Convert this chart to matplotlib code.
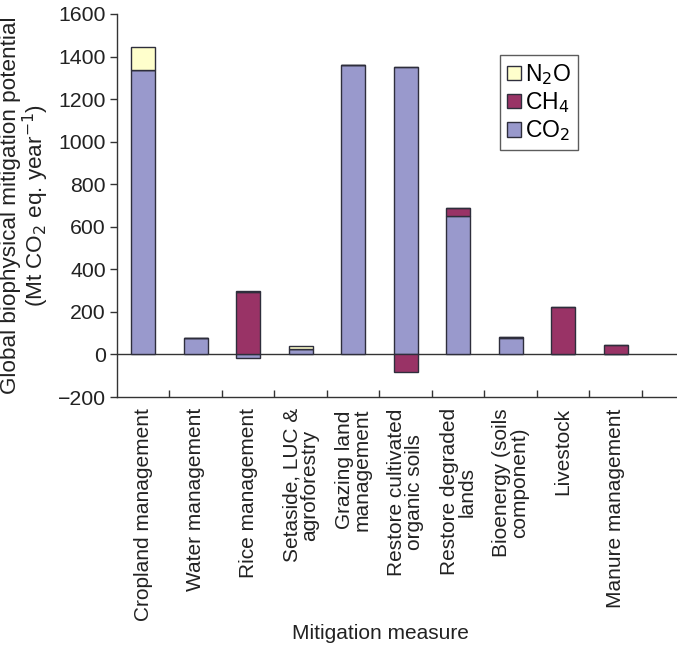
import numpy as np
import matplotlib
matplotlib.use("Agg")
import matplotlib.pyplot as plt
from matplotlib.patches import Patch

plt.rcParams['font.family'] = ['Liberation Sans', 'DejaVu Sans']

measures = ["Cropland management", "Water management", "Rice management",
            "Setaside, LUC &\nagroforestry", "Grazing land\nmanagement",
            "Restore cultivated\norganic soils", "Restore degraded\nlands",
            "Bioenergy (soils\ncomponent)", "Livestock", "Manure management"]
co2 = [1335, 76, -15, 28, 1360, 1350, 650, 78, 0, 0]
ch4 = [0, 0, 295, 0, 0, -83, 38, 3, 222, 45]
n2o = [110, 0, 4, 14, 0, 3, 0, 0, 0, 0]

series = [("CO$_2$", co2, "#9999cc"),
          ("CH$_4$", ch4, "#993366"),
          ("N$_2$O", n2o, "#ffffcc")]

fig = plt.figure(figsize=(6.77, 6.48), dpi=100)
ax = fig.add_axes([0.1728, 0.3873, 0.8272, 0.5911])

x = np.arange(len(measures))
pos_base = np.zeros(len(measures))
neg_base = np.zeros(len(measures))
edge = "#2e2e3c"
for name, vals, col in series:
    vals = np.array(vals, dtype=float)
    base = np.where(vals >= 0, pos_base, neg_base)
    ax.bar(x, vals, 0.46, bottom=base, color=col, edgecolor=edge, linewidth=1.0, zorder=3)
    pos_base += np.where(vals > 0, vals, 0)
    neg_base += np.where(vals < 0, vals, 0)

ax.axhline(0, color="#333333", linewidth=1.0, zorder=2)

ax.set_ylim(-200, 1600)
ax.set_xlim(-0.5, 10.17)
ax.set_yticks(range(-200, 1601, 200))
ax.set_yticklabels(["\u2212200"] + [str(v) for v in range(0, 1601, 200)])
ax.tick_params(axis="y", direction="out", length=5, width=1, colors="#333333",
               labelsize=15.3, labelcolor="#222222", pad=3)

ax.set_xticks(np.arange(0.5, 10, 1))
ax.set_xticklabels([])
ax.tick_params(axis="x", which="major", direction="in", length=5, width=1, colors="#333333")
ax.set_xticks(x, minor=True)
ax.set_xticklabels(measures, minor=True, rotation=90, fontsize=15, color="#222222",
                   ha="center", va="top", multialignment="center", linespacing=0.95)
ax.tick_params(axis="x", which="minor", length=0, pad=8)

for s in ["top", "right"]:
    ax.spines[s].set_visible(False)
for s in ["left", "bottom"]:
    ax.spines[s].set_color("#333333")
    ax.spines[s].set_linewidth(1.0)

ax.set_ylabel("Global biophysical mitigation potential\n(Mt CO$_2$ eq. year$^{-1}$)",
              fontsize=16.2, color="#222222", linespacing=1.0)
ax.yaxis.set_label_coords(-0.118, 0.5)
ax.set_xlabel("Mitigation measure", fontsize=15, color="#222222")
ax.xaxis.set_label_coords(0.47, -0.593)

handles = [Patch(facecolor=c, edgecolor=edge, label=n) for n, v, c in reversed(series)]
leg = ax.legend(handles=handles, loc="upper left", bbox_to_anchor=(0.684, 0.893),
                borderaxespad=0, fontsize=16.5, frameon=True, fancybox=False,
                handlelength=0.6, handleheight=0.6, handletextpad=0.2,
                labelspacing=0.15, borderpad=0.3, edgecolor="#333333")
leg.get_frame().set_linewidth(1.0)

fig.savefig("out.png", dpi=100)
